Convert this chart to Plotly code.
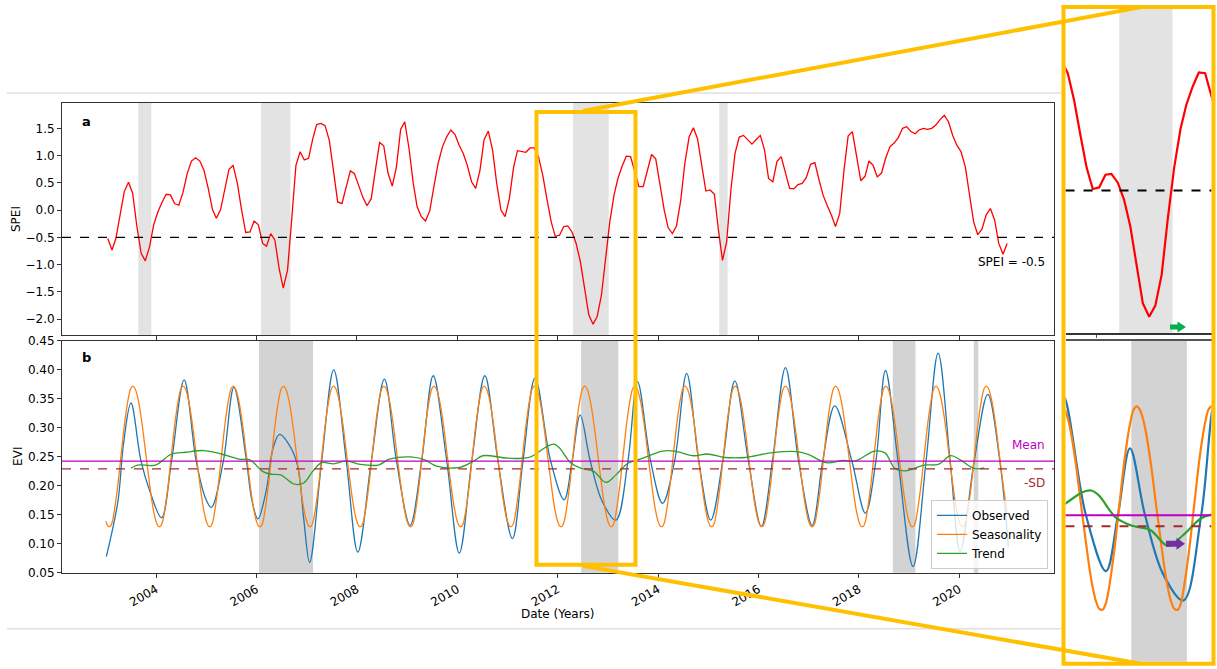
import numpy as np
import pandas as pd
import plotly.graph_objects as go

W, H = 1217, 669
FONT = "DejaVu Sans"

# ---------------- data ----------------
spei_values = [
    -0.52, -0.73, -0.52, -0.06, 0.34, 0.51, 0.31, -0.30, -0.79, -0.93, -0.67, -0.27,
    -0.03, 0.15, 0.29, 0.28, 0.12, 0.09, 0.32, 0.67, 0.90, 0.96, 0.90, 0.73,
    0.40, 0.01, -0.15, 0.01, 0.40, 0.75, 0.82, 0.49, 0.00, -0.41, -0.40, -0.20,
    -0.27, -0.61, -0.66, -0.43, -0.55, -1.07, -1.43, -1.10, -0.15, 0.82, 1.07, 0.92,
    0.95, 1.31, 1.57, 1.59, 1.55, 1.28, 0.73, 0.15, 0.12, 0.44, 0.72, 0.67,
    0.46, 0.23, 0.08, 0.21, 0.73, 1.24, 1.18, 0.68, 0.44, 0.79, 1.48, 1.62,
    1.13, 0.49, 0.06, -0.12, -0.20, -0.01, 0.43, 0.86, 1.16, 1.34, 1.47, 1.39,
    1.19, 1.03, 0.82, 0.52, 0.40, 0.73, 1.29, 1.45, 1.10, 0.49, 0.00, -0.12,
    0.21, 0.79, 1.09, 1.08, 1.06, 1.14, 1.14, 0.98, 0.64, 0.21, -0.21, -0.48,
    -0.46, -0.30, -0.29, -0.40, -0.61, -0.95, -1.43, -1.92, -2.09, -1.95, -1.56, -0.85,
    -0.21, 0.28, 0.58, 0.81, 0.99, 0.98, 0.70, 0.43, 0.43, 0.73, 1.02, 0.94,
    0.49, 0.00, -0.32, -0.43, -0.29, 0.18, 0.86, 1.34, 1.51, 1.31, 0.82, 0.35,
    0.37, 0.29, -0.34, -0.92, -0.58, 0.37, 1.04, 1.34, 1.37, 1.29, 1.21, 1.29,
    1.37, 1.10, 0.58, 0.52, 0.89, 0.98, 0.67, 0.40, 0.39, 0.47, 0.49, 0.60,
    0.84, 0.87, 0.58, 0.28, 0.09, -0.09, -0.30, -0.06, 0.73, 1.36, 1.44, 0.98,
    0.54, 0.62, 0.90, 0.82, 0.61, 0.68, 0.95, 1.16, 1.23, 1.33, 1.50, 1.53,
    1.44, 1.40, 1.47, 1.50, 1.48, 1.50, 1.56, 1.66, 1.74, 1.62, 1.37, 1.19,
    1.07, 0.79, 0.31, -0.21, -0.45, -0.35, -0.09, 0.03, -0.18, -0.61, -0.81, -0.61,
]
spei_dates = pd.date_range("2003-01-01", periods=len(spei_values), freq="MS") + pd.Timedelta(days=14)
spei_threshold = -0.5

# drought periods (SPEI) and EVI anomaly periods
spei_drought_start = ["2003-08-25", "2006-02-03", "2012-04-22", "2015-03-22"]
spei_drought_end = ["2003-11-28", "2006-09-05", "2013-01-07", "2015-05-22"]
evi_low_start = ["2006-01-19", "2012-06-20", "2018-09-05", "2020-04-16"]
evi_low_end = ["2007-02-17", "2013-03-18", "2019-02-17", "2020-05-19"]

# observed EVI (decimal year, value)
obs_years = [
    2003.01, 2003.24, 2003.35, 2003.50, 2003.70, 2003.88, 2004.11, 2004.31, 2004.56, 2004.80,
    2004.98, 2005.10, 2005.34, 2005.55, 2005.80, 2005.91, 2006.03, 2006.19, 2006.33, 2006.46,
    2006.69, 2006.83, 2006.94, 2007.06, 2007.30, 2007.54, 2007.79, 2008.02, 2008.29, 2008.55,
    2008.79, 2009.06, 2009.29, 2009.52, 2009.79, 2010.04, 2010.29, 2010.55, 2010.81, 2011.10,
    2011.31, 2011.55, 2011.86, 2012.13, 2012.29, 2012.45, 2012.65, 2012.89, 2013.16, 2013.40,
    2013.59, 2013.85, 2014.09, 2014.33, 2014.57, 2014.81, 2015.05, 2015.29, 2015.53, 2015.80,
    2016.06, 2016.28, 2016.54, 2016.80, 2017.07, 2017.28, 2017.52, 2017.86, 2018.13, 2018.34,
    2018.53, 2018.78, 2019.08, 2019.34, 2019.58, 2019.82, 2020.02, 2020.30, 2020.57, 2020.81,
    2020.98,
]
obs_values = [
    0.078, 0.173, 0.271, 0.343, 0.243, 0.190, 0.145, 0.243, 0.383, 0.243,
    0.180, 0.163, 0.243, 0.370, 0.243, 0.174, 0.143, 0.190, 0.265, 0.289,
    0.265, 0.231, 0.144, 0.068, 0.243, 0.400, 0.243, 0.086, 0.243, 0.384,
    0.243, 0.132, 0.243, 0.390, 0.243, 0.084, 0.243, 0.390, 0.243, 0.109,
    0.243, 0.386, 0.243, 0.176, 0.243, 0.322, 0.243, 0.173, 0.141, 0.243,
    0.380, 0.243, 0.170, 0.243, 0.394, 0.243, 0.141, 0.243, 0.381, 0.243,
    0.130, 0.243, 0.404, 0.243, 0.132, 0.243, 0.338, 0.243, 0.153, 0.243,
    0.399, 0.243, 0.061, 0.243, 0.429, 0.243, 0.087, 0.243, 0.358, 0.243,
    0.095,
]

# seasonal cycle (values on the 1st and 16th of each month), repeated every year
season_cycle = [
    0.139, 0.131, 0.130, 0.137, 0.153, 0.177, 0.207, 0.240, 0.273, 0.305, 0.333, 0.354,
    0.368, 0.372, 0.368, 0.357, 0.339, 0.316, 0.290, 0.260, 0.230, 0.202, 0.176, 0.155,
]
season_years = list(range(2003, 2021))

# trend (decimal year, value)
trend_years = [
    2003.50, 2003.63, 2003.99, 2004.31, 2004.59, 2004.95, 2005.30, 2005.66, 2005.87, 2006.12,
    2006.30, 2006.48, 2006.76, 2006.94, 2007.12, 2007.30, 2007.54, 2007.79, 2008.07, 2008.43,
    2008.65, 2009.07, 2009.35, 2009.59, 2010.05, 2010.33, 2010.51, 2011.00, 2011.43, 2011.93,
    2012.27, 2012.48, 2012.72, 2012.96, 2013.16, 2013.40, 2013.64, 2014.09, 2014.33, 2014.71,
    2014.98, 2015.33, 2015.74, 2016.25, 2016.77, 2017.00, 2017.35, 2017.69, 2017.93, 2018.31,
    2018.52, 2018.72, 2018.93, 2019.30, 2019.58, 2019.83, 2020.02, 2020.30, 2020.50,
]
trend_values = [
    0.2305, 0.236, 0.236, 0.255, 0.258, 0.261, 0.255, 0.246, 0.245, 0.225,
    0.220, 0.219, 0.203, 0.205, 0.225, 0.240, 0.238, 0.243, 0.237, 0.236,
    0.246, 0.250, 0.245, 0.234, 0.232, 0.243, 0.252, 0.248, 0.249, 0.272,
    0.239, 0.230, 0.225, 0.206, 0.219, 0.239, 0.246, 0.260, 0.260, 0.252,
    0.255, 0.249, 0.249, 0.257, 0.259, 0.254, 0.240, 0.244, 0.243, 0.260,
    0.257, 0.230, 0.226, 0.236, 0.237, 0.252, 0.245, 0.230, 0.231,
]
evi_mean = 0.2426
evi_minus_sd = 0.2293

year_ticks = [2004, 2006, 2008, 2010, 2012, 2014, 2016, 2018, 2020]
spei_ticks = [-2.0, -1.5, -1.0, -0.5, 0.0, 0.5, 1.0, 1.5]
evi_ticks = [0.05, 0.10, 0.15, 0.20, 0.25, 0.30, 0.35, 0.40, 0.45]


def yr2date(y):
    year = int(np.floor(y))
    return pd.Timestamp(year=year, month=1, day=1) + pd.Timedelta(days=(y - year) * 365.25)


obs_dates = [yr2date(y) for y in obs_years]
trend_dates = [yr2date(y) for y in trend_years]
season_dates = []
season_vals = []
for yr in season_years:
    for k, v in enumerate(season_cycle):
        season_dates.append(pd.Timestamp(year=yr, month=k // 2 + 1, day=1 if k % 2 == 0 else 16))
        season_vals.append(v)

# layout helpers (pixel -> paper); vertical positions compensate the capture scaling
Y_OFF, Y_SCALE = 6.9, 0.9795


def PX(x):
    return x / W


def PY(y):
    yd = (y - Y_OFF) / Y_SCALE
    return 1 - yd / H


def DOM(y_bottom, y_top):
    return [max(0.0, PY(y_bottom)), min(1.0, PY(y_top))]


C_OBS, C_SEA, C_TR = "#1f77b4", "#ff7f0e", "#2ca02c"
C_MEAN, C_SD = "#BF00BF", "#A52A2A"
YEL = "#FFC000"

fig = go.Figure()

# main panels
fig.add_trace(go.Scatter(x=spei_dates, y=spei_values, mode="lines", line=dict(color="red", width=1.3),
                         showlegend=False, xaxis="x", yaxis="y"))
fig.add_trace(go.Scatter(x=obs_dates, y=obs_values, mode="lines", name="Observed",
                         line=dict(color=C_OBS, width=1.3, shape="spline", smoothing=1.0), xaxis="x2", yaxis="y2"))
fig.add_trace(go.Scatter(x=season_dates, y=season_vals, mode="lines", name="Seasonality",
                         line=dict(color=C_SEA, width=1.3, shape="spline"), xaxis="x2", yaxis="y2"))
fig.add_trace(go.Scatter(x=trend_dates, y=trend_values, mode="lines", name="Trend",
                         line=dict(color=C_TR, width=1.3, shape="spline"), xaxis="x2", yaxis="y2"))

# inset panels
fig.add_trace(go.Scatter(x=spei_dates, y=spei_values, mode="lines", line=dict(color="red", width=2.2),
                         showlegend=False, xaxis="x3", yaxis="y3"))
fig.add_trace(go.Scatter(x=obs_dates, y=obs_values, mode="lines", showlegend=False,
                         line=dict(color=C_OBS, width=2.2, shape="spline"), xaxis="x4", yaxis="y4"))
fig.add_trace(go.Scatter(x=season_dates, y=season_vals, mode="lines", showlegend=False,
                         line=dict(color=C_SEA, width=2.2, shape="spline"), xaxis="x4", yaxis="y4"))
fig.add_trace(go.Scatter(x=trend_dates, y=trend_values, mode="lines", showlegend=False,
                         line=dict(color=C_TR, width=2.2, shape="spline"), xaxis="x4", yaxis="y4"))

shapes = []
for s, e in zip(spei_drought_start, spei_drought_end):
    shapes.append(dict(type="rect", xref="x", yref="y domain", x0=s, x1=e, y0=0, y1=1,
                       fillcolor="#e3e3e3", line=dict(width=0), layer="below"))
for s, e in zip(evi_low_start, evi_low_end):
    shapes.append(dict(type="rect", xref="x2", yref="y2 domain", x0=s, x1=e, y0=0, y1=1,
                       fillcolor="#d3d3d3", line=dict(width=0), layer="below"))
# inset bands (only the 2012 periods fall inside the inset window)
shapes.append(dict(type="rect", xref="x3", yref="y3 domain", x0=spei_drought_start[2], x1=spei_drought_end[2],
                   y0=0, y1=1, fillcolor="#e3e3e3", line=dict(width=0), layer="below"))
shapes.append(dict(type="rect", xref="x4", yref="y4 domain", x0=evi_low_start[1], x1=evi_low_end[1],
                   y0=0, y1=1, fillcolor="#d3d3d3", line=dict(width=0), layer="below"))

# reference lines
shapes.append(dict(type="line", xref="x domain", yref="y", x0=0, x1=1, y0=spei_threshold, y1=spei_threshold,
                   line=dict(color="black", width=1.2, dash="dash")))
shapes.append(dict(type="line", xref="x2 domain", yref="y2", x0=0, x1=1, y0=evi_mean, y1=evi_mean,
                   line=dict(color=C_MEAN, width=1.3)))
shapes.append(dict(type="line", xref="x2 domain", yref="y2", x0=0, x1=1, y0=evi_minus_sd, y1=evi_minus_sd,
                   line=dict(color=C_SD, width=1.3, dash="dash")))
shapes.append(dict(type="line", xref="x3 domain", yref="y3", x0=0, x1=1, y0=spei_threshold, y1=spei_threshold,
                   line=dict(color="black", width=2, dash="dash")))
shapes.append(dict(type="line", xref="x4 domain", yref="y4", x0=0, x1=1, y0=evi_mean, y1=evi_mean,
                   line=dict(color=C_MEAN, width=2)))
shapes.append(dict(type="line", xref="x4 domain", yref="y4", x0=0, x1=1, y0=evi_minus_sd, y1=evi_minus_sd,
                   line=dict(color=C_SD, width=2, dash="dash")))

# light figure border lines of the embedded chart
for yy in (93, 629):
    shapes.append(dict(type="line", xref="paper", yref="paper", x0=PX(7), x1=PX(1061), y0=PY(yy), y1=PY(yy),
                       line=dict(color="#cfcfcf", width=1)))


def arrow(x0, x1, xh, yc, t, h, color):
    pts = [(x0, yc - t), (xh, yc - t), (xh, yc - h), (x1, yc), (xh, yc + h), (xh, yc + t), (x0, yc + t)]
    path = "M " + " L ".join(f"{PX(a):.5f},{PY(b):.5f}" for a, b in pts) + " Z"
    return dict(type="path", xref="paper", yref="paper", path=path, fillcolor=color, line=dict(width=0))


shapes.append(arrow(1170, 1186, 1177.5, 327, 2.5, 5.5, "#00B050"))
shapes.append(arrow(1166, 1185, 1176.5, 544, 3.0, 6.0, "#7030A0"))

# yellow zoom frames and connectors
shapes.append(dict(type="rect", xref="paper", yref="paper", x0=PX(536.5), x1=PX(635.5), y0=PY(565), y1=PY(112),
                   line=dict(color=YEL, width=4)))
shapes.append(dict(type="rect", xref="paper", yref="paper", x0=PX(1063.5), x1=PX(1213.5), y0=PY(664), y1=PY(7),
                   line=dict(color=YEL, width=4)))
shapes.append(dict(type="line", xref="paper", yref="paper", x0=PX(583), y0=PY(111), x1=PX(1141), y1=PY(7),
                   line=dict(color=YEL, width=4)))
shapes.append(dict(type="line", xref="paper", yref="paper", x0=PX(583), y0=PY(566), x1=PX(1141), y1=PY(664),
                   line=dict(color=YEL, width=4)))


def label(text, x, y, color="black", size=12, angle=0, xanchor="center"):
    return dict(text=text, xref="paper", yref="paper", x=PX(x), y=PY(y), showarrow=False,
                xanchor=xanchor, yanchor="middle", textangle=angle, font=dict(size=size, color=color))


annotations = [
    label("<b>a</b>", 86, 121, size=13),
    label("<b>b</b>", 86, 358, size=13),
    label("SPEI = -0.5", 1047, 262, xanchor="right"),
    label("Mean", 1047, 445, color=C_MEAN, xanchor="right"),
    label("-SD", 1047, 483, color=C_SD, xanchor="right"),
    label("SPEI", 16, 219, angle=-90),
    label("EVI", 18, 457, angle=-90),
    label("Date (Years)", 558, 614),
]

xr_main = ["2002-02-16", "2021-11-21"]
xr_inset = ["2011-08-04", "2013-07-16"]
tickdates = [f"{y}-01-01" for y in year_ticks]
ticklabs = [str(y) for y in year_ticks]

axis_common = dict(showgrid=False, zeroline=False, showline=True, linecolor="#333333", linewidth=1,
                   mirror=True, ticks="outside", ticklen=4, tickcolor="#333333",
                   tickfont=dict(size=12, color="black"))

fig.update_layout(
    width=W, height=H, margin=dict(l=0, r=0, t=0, b=0),
    paper_bgcolor="white", plot_bgcolor="white",
    font=dict(family=FONT, size=12, color="black"),
    xaxis=dict(domain=[PX(62), PX(1054)], anchor="y", type="date", range=xr_main,
               tickvals=tickdates, ticktext=ticklabs, showticklabels=False, **axis_common),
    yaxis=dict(domain=DOM(335, 103), anchor="x", range=[-2.288, 1.963],
               tickvals=spei_ticks, ticktext=[f"{v:.1f}".replace("-", "\u2212") for v in spei_ticks],
               **axis_common),
    xaxis2=dict(domain=[PX(62), PX(1054)], anchor="y2", type="date", range=xr_main,
                tickvals=tickdates, ticktext=ticklabs, tickangle=-30, **axis_common),
    yaxis2=dict(domain=DOM(573, 341), anchor="x2", range=[0.05, 0.45],
                tickvals=evi_ticks, ticktext=[f"{v:.2f}" for v in evi_ticks], **axis_common),
    xaxis3=dict(domain=[PX(1065.5), PX(1211.5)], anchor="y3", type="date", range=xr_inset,
                showgrid=False, zeroline=False, showline=True, linecolor="#333333", linewidth=1.5,
                ticks="outside", ticklen=3, tickcolor="#555555", tickvals=["2012-01-01"],
                showticklabels=False),
    yaxis3=dict(domain=DOM(333, 9), anchor="x3", range=[-2.295, 1.789], visible=False),
    xaxis4=dict(domain=[PX(1065.5), PX(1211.5)], anchor="y4", type="date", range=xr_inset, side="top",
                showgrid=False, zeroline=False, showline=True, linecolor="#555555", linewidth=1.5,
                ticks="", showticklabels=False),
    yaxis4=dict(domain=DOM(662, 341), anchor="x4", range=[0.068, 0.45], visible=False),
    legend=dict(x=PX(1048), y=PY(569), xanchor="right", yanchor="bottom",
                bgcolor="rgba(255,255,255,0.8)", bordercolor="#cccccc", borderwidth=1,
                font=dict(size=12, color="black"), itemwidth=30, tracegroupgap=0),
    shapes=shapes,
    annotations=annotations,
)

fig.write_html("out.html")
